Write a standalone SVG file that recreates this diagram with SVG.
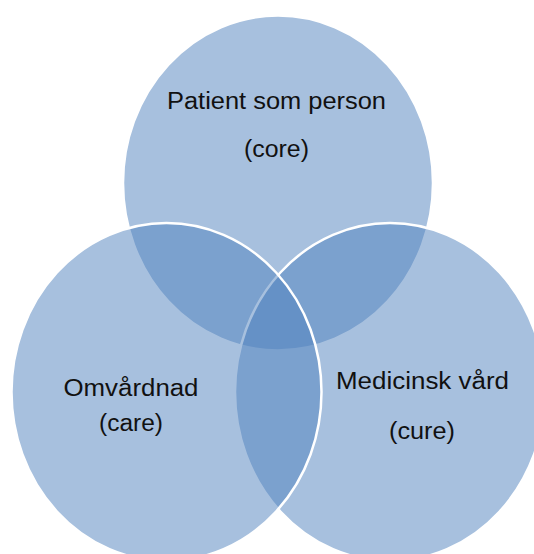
<svg xmlns="http://www.w3.org/2000/svg" width="534" height="554" viewBox="0 0 534 554">
<style>
.c{fill:#4F81BD;fill-opacity:0.5;stroke:#FFFFFF;stroke-width:2.5}
.t{font-family:"Liberation Sans",Arial,sans-serif;font-size:23px;fill:#111111;text-anchor:middle}
</style>
<rect width="534" height="554" fill="#FFFFFF"/>
<g id="core">
<ellipse class="c" cx="278" cy="183" rx="155" ry="167.5"/>
<text class="t" x="276.5" y="109" textLength="219" lengthAdjust="spacingAndGlyphs">Patient som person</text>
<text class="t" x="276.5" y="157" textLength="65" lengthAdjust="spacingAndGlyphs">(core)</text>
</g>
<g id="cure">
<ellipse class="c" cx="390" cy="392" rx="155" ry="169"/>
<text class="t" x="422.5" y="389" textLength="173" lengthAdjust="spacingAndGlyphs">Medicinsk vård</text>
<text class="t" x="422" y="439" textLength="66" lengthAdjust="spacingAndGlyphs">(cure)</text>
</g>
<g id="care">
<ellipse class="c" cx="166.5" cy="392" rx="155" ry="169"/>
<text class="t" x="131" y="396" textLength="135" lengthAdjust="spacingAndGlyphs">Omvårdnad</text>
<text class="t" x="131" y="431" textLength="64" lengthAdjust="spacingAndGlyphs">(care)</text>
</g>
<g id="connectors"/>
</svg>
